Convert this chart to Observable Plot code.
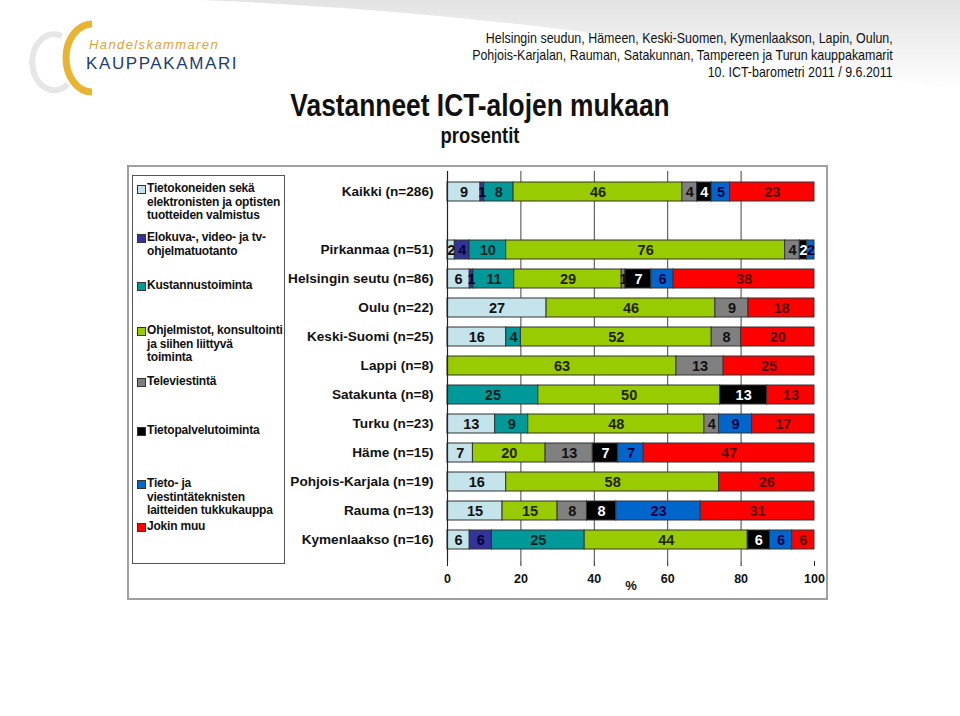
<!DOCTYPE html>
<html>
<head>
<meta charset="utf-8">
<script src="https://cdn.jsdelivr.net/npm/d3@7"></script>
<script src="https://cdn.jsdelivr.net/npm/@observablehq/plot@0.6"></script>
<style>
  html, body { margin: 0; padding: 0; background: #fff; }
  body { width: 960px; height: 716px; position: relative; overflow: hidden; font-family: "Liberation Sans", Arial, sans-serif; }
  .abs { position: absolute; }
  #hdr { right: 67px; top: 29px; text-align: right; font-size: 15px; line-height: 17px; color: #111; transform: scaleX(0.83); transform-origin: right top; white-space: nowrap; }
  #title { left: 0; width: 960px; top: 88px; text-align: center; font-size: 31px; font-weight: bold; color: #111; transform: scaleX(0.85); transform-origin: 480px 0; white-space: nowrap; }
  #sub { left: 0; width: 960px; top: 123px; text-align: center; font-size: 22px; font-weight: bold; color: #111; transform: scaleX(0.84); transform-origin: 480px 0; }
  #frame { left: 127px; top: 165px; width: 697px; height: 431px; border: 2px solid #a0a0a0; }
  #legend { left: 132px; top: 175px; width: 151px; height: 387px; border: 1px solid #555; }
  .li { position: absolute; left: 4px; font-size: 12px; font-weight: bold; line-height: 13.5px; color: #111; padding-left: 10px; white-space: nowrap; letter-spacing: -0.2px; }
  .sw { position: absolute; left: 0; top: 3px; width: 7px; height: 7px; border: 1px solid #333; }
  #chart { left: 127px; top: 165px; }
</style>
</head>
<body>
<svg class="abs" style="left:0;top:0" width="960" height="160">
  <defs>
    <linearGradient id="g1" x1="0" y1="0" x2="0" y2="1">
      <stop offset="0" stop-color="#dedede"/>
      <stop offset="1" stop-color="#ffffff"/>
    </linearGradient>
  </defs>
  <path d="M 200 0 C 420 8, 700 40, 960 92 L 960 0 Z" fill="url(#g1)" opacity="0.85"/>
  <path d="M 62 36 A 22 28 0 1 0 68 84" fill="none" stroke="#e6e6e6" stroke-width="6"/>
  <path d="M 92 24 A 26 34 0 0 0 92 92" fill="none" stroke="#e8b431" stroke-width="7"/>
  <text x="89" y="49" font-family="Liberation Sans, Arial" font-style="italic" font-size="13" fill="#e0a33a" letter-spacing="1.4">Handelskammaren</text>
  <text x="86" y="69" font-family="Liberation Sans, Arial" font-size="17" fill="#1f3c6e" letter-spacing="1.6">KAUPPAKAMARI</text>
</svg>
<div id="hdr" class="abs">Helsingin seudun, Hämeen, Keski-Suomen, Kymenlaakson, Lapin, Oulun,<br>Pohjois-Karjalan, Rauman, Satakunnan, Tampereen ja Turun kauppakamarit<br>10. ICT-barometri 2011 / 9.6.2011</div>
<div id="title" class="abs">Vastanneet ICT-alojen mukaan</div>
<div id="sub" class="abs">prosentit</div>
<div id="frame" class="abs"></div>
<div id="legend" class="abs"></div>
<div id="chart" class="abs"></div>
<script>
const regions = ["Kaikki (n=286)", " ", "Pirkanmaa (n=51)", "Helsingin seutu (n=86)", "Oulu (n=22)", "Keski-Suomi (n=25)", "Lappi (n=8)", "Satakunta (n=8)", "Turku (n=23)", "Häme (n=15)", "Pohjois-Karjala (n=19)", "Rauma (n=13)", "Kymenlaakso (n=16)"];
const seriesNames = ["Tietokoneiden sekä elektronisten ja optisten tuotteiden valmistus", "Elokuva-, video- ja tv-ohjelmatuotanto", "Kustannustoiminta", "Ohjelmistot, konsultointi ja siihen liittyvä toiminta", "Televiestintä", "Tietopalvelutoiminta", "Tieto- ja viestintäteknisten laitteiden tukkukauppa", "Jokin muu"];
const legendLabels = ["Tietokoneiden sekä<br>elektronisten ja optisten<br>tuotteiden valmistus", "Elokuva-, video- ja tv-<br>ohjelmatuotanto", "Kustannustoiminta", "Ohjelmistot, konsultointi<br>ja siihen liittyvä<br>toiminta", "Televiestintä", "Tietopalvelutoiminta", "Tieto- ja<br>viestintäteknisten<br>laitteiden tukkukauppa", "Jokin muu"];
const seriesColors = ["#c4e3ea", "#333399", "#009999", "#99cc00", "#808080", "#000000", "#0066cc", "#ff0000"];
const labelColors = ["#111111", "#000033", "#002222", "#222200", "#111111", "#ffffff", "#000044", "#550000"];
// values per series, in the order of regions (blank row omitted)
const tietokoneet   = [9, 2, 6, 27, 16, 0, 0, 13, 7, 16, 15, 6];
const elokuva       = [1, 4, 1, 0, 0, 0, 0, 0, 0, 0, 0, 6];
const kustannus     = [8, 10, 11, 0, 4, 0, 25, 9, 0, 0, 0, 25];
const ohjelmistot   = [46, 76, 29, 46, 52, 63, 50, 48, 20, 58, 15, 44];
const televiestinta = [4, 4, 1, 9, 8, 13, 0, 4, 13, 0, 8, 0];
const tietopalvelu  = [4, 2, 7, 0, 0, 0, 13, 0, 7, 0, 8, 6];
const tukkukauppa   = [5, 2, 6, 0, 0, 0, 0, 9, 7, 0, 23, 6];
const jokinMuu      = [23, 0, 38, 18, 20, 25, 13, 17, 47, 26, 31, 6];
const legendTops = [6, 55, 103, 148, 199, 248, 301, 344];
const xTicks = [0, 20, 40, 60, 80, 100];

const seriesValues = [tietokoneet, elokuva, kustannus, ohjelmistot, televiestinta, tietopalvelu, tukkukauppa, jokinMuu];
const dataRegions = regions.filter(r => r.trim() !== "");
const data = [];
dataRegions.forEach((r, i) => {
  seriesValues.forEach((vals, s) => {
    if (vals[i] > 0) data.push({region: r, s, series: seriesNames[s], value: vals[i]});
  });
});

// legend
const lg = document.getElementById("legend");
seriesNames.forEach((n, i) => {
  const d = document.createElement("div");
  d.className = "li";
  d.style.top = legendTops[i] + "px";
  d.innerHTML = `<span class="sw" style="background:${seriesColors[i]}"></span>${legendLabels[i]}`;
  lg.appendChild(d);
});

const stackOpts = {offset: "normalize", order: null};
const chart = Plot.plot({
  width: 697,
  height: 431,
  marginLeft: 320,
  marginRight: 10,
  marginTop: 6,
  marginBottom: 35,
  style: {fontFamily: "Liberation Sans, Arial, sans-serif", background: "transparent", overflow: "visible"},
  x: {domain: [0, 1]},
  y: {domain: regions, padding: 0.33},
  marks: [
    Plot.gridX(xTicks.filter(t => t > 0 && t < 100).map(t => t / 100), {stroke: "#444", strokeOpacity: 1, strokeWidth: 1}),
    Plot.barX(data, Plot.stackX({...stackOpts, x: "value", y: "region", z: "series", fill: d => seriesColors[d.s], stroke: "#333", strokeWidth: 1, inset: 0})),
    Plot.text(data, Plot.stackX({...stackOpts, x: "value", y: "region", z: "series", text: d => String(d.value), fill: d => labelColors[d.s], fontSize: 14.5, fontWeight: "bold"})),
    Plot.ruleX([0], {stroke: "#222", strokeWidth: 1.2}),
    Plot.axisY({tickSize: 0, tickPadding: 14, fontSize: 13.6, fontWeight: "bold", fill: "#111", label: null}),
    Plot.axisX(xTicks.map(t => t / 100), {tickFormat: d => String(Math.round(d * 100)), tickSize: 5, tickPadding: 8, line: true, fontSize: 12.5, fontWeight: "bold", fill: "#111", stroke: "#222", label: null}),
    Plot.text(["%"], {frameAnchor: "bottom", dy: 28, fontSize: 13, fontWeight: "bold", fill: "#111"})
  ]
});
document.getElementById("chart").appendChild(chart);
</script>
</body>
</html>
